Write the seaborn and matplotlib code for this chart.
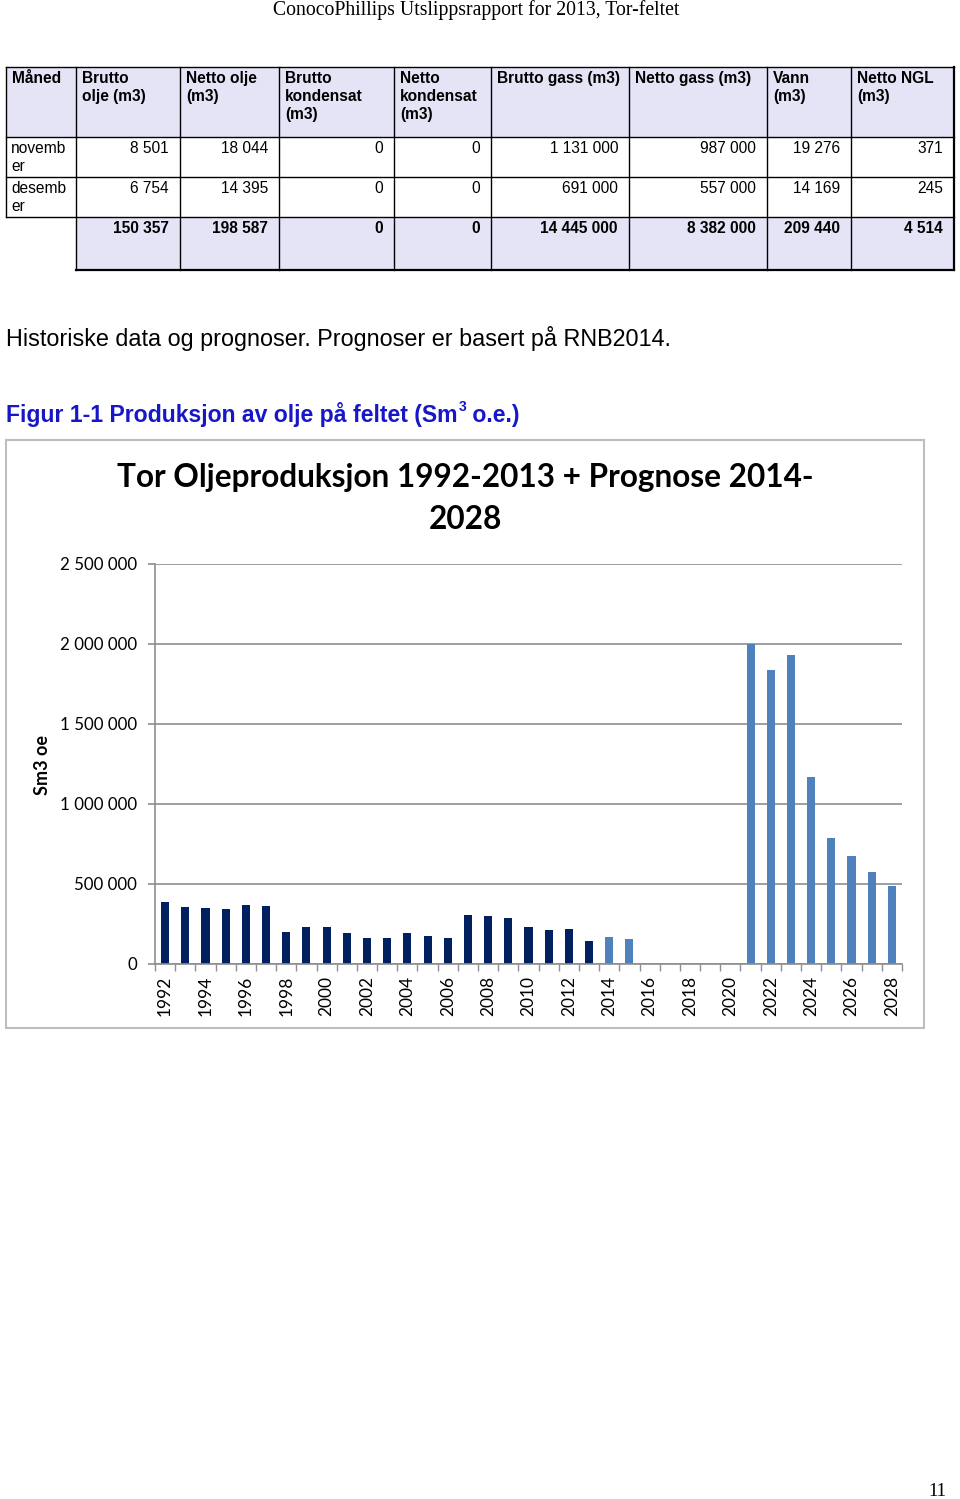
import numpy as np
import pandas as pd
import matplotlib
matplotlib.use('Agg')
import matplotlib.pyplot as plt
import seaborn as sns
from matplotlib.patches import Rectangle

# Produksjonsdata (Sm3 o.e.)
years_hist = list(range(1992, 2014))
oil_hist = [386000, 358000, 348000, 346000, 367000, 362000, 202000, 229000,
            229000, 194000, 160000, 160000, 194000, 177000, 160000, 306000,
            302000, 285000, 231000, 212000, 217000, 146000]
years_prog = list(range(2014, 2029))
oil_prog = [169000, 154000, 0, 0, 0, 0, 0, 1998000, 1837000, 1929000,
            1167000, 787000, 673000, 573000, 485000]

y_ticks = [0, 500000, 1000000, 1500000, 2000000, 2500000]
y_tick_labels = ['0', '500 000', '1 000 000', '1 500 000', '2 000 000', '2 500 000']

# Tabell
tab_header = ['Måned', 'Brutto\nolje (m3)', 'Netto olje\n(m3)', 'Brutto\nkondensat\n(m3)',
              'Netto\nkondensat\n(m3)', 'Brutto gass (m3)', 'Netto gass (m3)',
              'Vann\n(m3)', 'Netto NGL\n(m3)']
rad_nov = ['novemb\ner', '8 501', '18 044', '0', '0', '1 131 000', '987 000', '19 276', '371']
rad_des = ['desemb\ner', '6 754', '14 395', '0', '0', '691 000', '557 000', '14 169', '245']
rad_sum = ['', '150 357', '198 587', '0', '0', '14 445 000', '8 382 000', '209 440', '4 514']

df = pd.DataFrame({
    'År': [str(y) for y in years_hist + years_prog],
    'Olje': oil_hist + oil_prog,
    'Serie': ['Historisk'] * len(years_hist) + ['Prognose'] * len(years_prog),
})
order = list(df['År'])

fig = plt.figure(figsize=(9.6, 14.99), dpi=100)

# side-akse i pikselkoordinater
page = fig.add_axes([0, 0, 1, 1])
page.set_xlim(0, 960)
page.set_ylim(1499, 0)
page.axis('off')

sans = 'Liberation Sans'
page.text(476, 10, 'ConocoPhillips Utslippsrapport for 2013, Tor-feltet', ha='center', va='center',
          family='Liberation Serif', fontsize=14.2)
page.text(937, 1491, '11', ha='center', va='center', family='Liberation Serif', fontsize=13.5)

# tabell
cols = [6, 76, 180, 279, 394, 491, 629, 767, 851, 954]
rows = [67, 137, 177, 217, 270]
lav = '#E4E4F6'
page.add_patch(Rectangle((cols[0], rows[0]), cols[-1] - cols[0], rows[1] - rows[0], color=lav, lw=0))
page.add_patch(Rectangle((cols[1], rows[3]), cols[-1] - cols[1], rows[4] - rows[3], color=lav, lw=0))
for y in rows[:4]:
    page.plot([cols[0], cols[-1]], [y, y], color='black', lw=1)
page.plot([cols[1], cols[-1]], [rows[4], rows[4]], color='black', lw=1.6)
page.plot([cols[0], cols[0]], [rows[0], rows[3]], color='black', lw=1)
for x in cols[1:]:
    page.plot([x, x], [rows[0], rows[4]], color='black', lw=1.6 if x == cols[-1] else 1)

fs_tab = 11.2
for i, txt in enumerate(tab_header):
    page.text(cols[i] + 6, rows[0] + 4, txt, ha='left', va='top', family=sans,
              fontsize=fs_tab, fontweight='bold', linespacing=1.27)
for r, rad in enumerate([rad_nov, rad_des, rad_sum]):
    top = rows[r + 1] + 4
    for i, txt in enumerate(rad):
        if i == 0:
            page.text(cols[0] + 5, top, txt, ha='left', va='top', family=sans,
                      fontsize=fs_tab, linespacing=1.27)
        else:
            page.text(cols[i + 1] - 11, top, txt, ha='right', va='top', family=sans,
                      fontsize=fs_tab, fontweight='bold' if r == 2 else 'normal')

page.text(6, 338, 'Historiske data og prognoser. Prognoser er basert på RNB2014.',
          ha='left', va='center', family=sans, fontsize=16.8)

# figurtekst med hevet 3
blue = '#1717C9'
fig.canvas.draw()
renderer = fig.canvas.get_renderer()
t1 = page.text(6, 422, 'Figur 1-1 Produksjon av olje på feltet (Sm', ha='left', va='baseline',
               family=sans, fontsize=16.6, fontweight='bold', color=blue)
bb = t1.get_window_extent(renderer)
x1 = page.transData.inverted().transform((bb.x1, bb.y0))[0]
t2 = page.text(x1 + 1, 411, '3', ha='left', va='baseline', family=sans, fontsize=10,
               fontweight='bold', color=blue)
bb2 = t2.get_window_extent(renderer)
x2 = page.transData.inverted().transform((bb2.x1, bb2.y0))[0]
page.text(x2, 422, ' o.e.)', ha='left', va='baseline', family=sans, fontsize=16.6,
          fontweight='bold', color=blue)

# diagramramme
page.add_patch(Rectangle((6, 440), 918, 588, fill=False, edgecolor='#BDBDBD', lw=1.5))
page.text(465, 477, 'Tor Oljeproduksjon 1992-2013 + Prognose 2014-', ha='center', va='center',
          family='Lato', fontsize=22.7, fontweight='bold')
page.text(465, 519, '2028', ha='center', va='center', family='Lato', fontsize=22.7, fontweight='bold')
page.text(43, 765, 'Sm3 oe', ha='center', va='center', rotation=90, family='Lato',
          fontsize=13, fontweight='bold')

# søylediagram
ax = fig.add_axes([155 / 960, 1 - 964 / 1499, (902 - 155) / 960, 400 / 1499])
sns.barplot(data=df, x='År', y='Olje', hue='Serie', order=order, dodge=False, width=0.4,
            palette={'Historisk': '#002060', 'Prognose': '#4F81BD'}, saturation=1,
            legend=False, ax=ax)
grid_c = '#8E8E8E'
ax.set_xlim(-0.5, len(order) - 0.5)
ax.set_ylim(0, 2500000)
ax.set_yticks(y_ticks)
ax.set_yticklabels(y_tick_labels, family='Lato', fontsize=12.2)
ax.set_xticks(range(0, len(order), 2))
ax.set_xticklabels(order[::2], family='Lato', fontsize=12.5, rotation=90)
ax.set_xticks(np.arange(-0.5, len(order), 1), minor=True)
ax.tick_params(axis='x', which='major', length=0, pad=8.7)
ax.tick_params(axis='x', which='minor', length=5, color=grid_c, width=1)
ax.tick_params(axis='y', length=5, color=grid_c, width=1.2, pad=7.8)
ax.yaxis.grid(True, color=grid_c, lw=1.2)
ax.set_axisbelow(True)
ax.set_xlabel('')
ax.set_ylabel('')
for s in ['top', 'right']:
    ax.spines[s].set_visible(False)
for s in ['left', 'bottom']:
    ax.spines[s].set_color(grid_c)
    ax.spines[s].set_linewidth(1.2)
ax.patch.set_alpha(0)

fig.savefig('out.png', dpi=100)
